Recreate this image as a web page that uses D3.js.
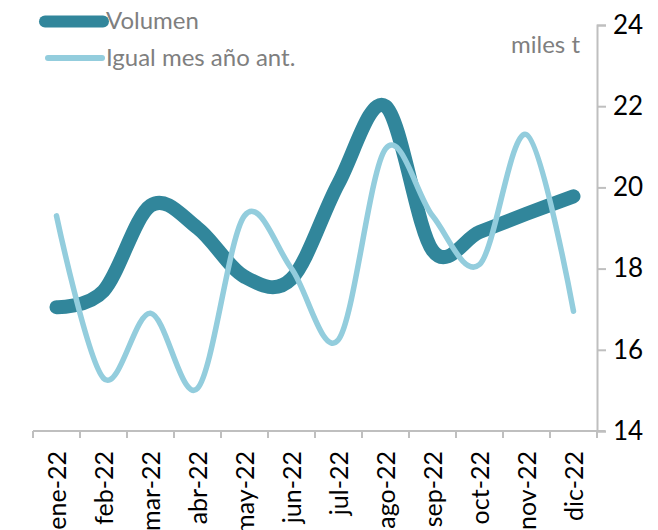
<!DOCTYPE html>
<html>
<head>
<meta charset="utf-8">
<script src="https://cdn.jsdelivr.net/npm/d3@7"></script>
<style>
  html, body { margin: 0; padding: 0; background: #ffffff; }
  svg { display: block; }
  text { font-family: Lato, "Open Sans", "Liberation Sans", sans-serif; }
</style>
</head>
<body>
<svg id="chart" width="658" height="530"></svg>
<script>
// Monthly volume (thousand tonnes), current year vs same month previous year
const months = ["ene-22", "feb-22", "mar-22", "abr-22", "may-22", "jun-22",
                "jul-22", "ago-22", "sep-22", "oct-22", "nov-22", "dic-22"];
const volumen = [17.05, 17.45, 19.55, 19.0, 17.8, 17.75, 20.1, 22.0, 18.45, 18.9, 19.35, 19.78];
const igualMesAnoAnt = [19.3, 15.3, 16.9, 15.05, 19.3, 18.0, 16.25, 20.95, 19.3, 18.1, 21.3, 16.95];
const yTicks = [14, 16, 18, 20, 22, 24];
const seriesNames = ["Volumen", "Igual mes año ant."];
const unitLabel = "miles t";

const colors = { volumen: "#31869b", previo: "#93cddd", axis: "#bfbfbf", grey: "#7f7f7f" };

const svg = d3.select("#chart");

const x = d3.scaleBand().domain(months).range([33, 597]).padding(0);
const y = d3.scaleLinear().domain([14, 24]).range([431, 25]);
const cx = d => x(d) + x.bandwidth() / 2;

// Horizontal category axis with ticks on the category boundaries
const xAxis = svg.append("g");
xAxis.append("line")
  .attr("x1", x.range()[0]).attr("x2", x.range()[1] + 8)
  .attr("y1", y(14)).attr("y2", y(14))
  .attr("stroke", colors.axis).attr("stroke-width", 2);
const bounds = months.map(m => x(m)).concat([x.range()[1]]);
xAxis.selectAll("line.tick").data(bounds).enter().append("line")
  .attr("class", "tick")
  .attr("x1", d => d).attr("x2", d => d)
  .attr("y1", y(14)).attr("y2", y(14) + 7)
  .attr("stroke", colors.axis).attr("stroke-width", 2);
xAxis.selectAll("text").data(months).enter().append("text")
  .attr("transform", d => `translate(${cx(d)},451) rotate(-90)`)
  .attr("dy", "0.36em")
  .attr("text-anchor", "end")
  .attr("font-size", 25)
  .attr("fill", "#000")
  .text(d => d);

// Value axis on the right
const yAxis = svg.append("g")
  .attr("transform", `translate(${x.range()[1]},0)`)
  .call(d3.axisRight(y).tickValues(yTicks).tickSize(9).tickPadding(7).tickFormat(d3.format("d")));
yAxis.select(".domain").attr("stroke", colors.axis).attr("stroke-width", 2);
yAxis.selectAll(".tick line").attr("stroke", colors.axis).attr("stroke-width", 2);
yAxis.selectAll(".tick text")
  .attr("font-size", 26)
  .attr("font-family", "Lato, 'Open Sans', sans-serif")
  .attr("fill", "#000");

svg.append("text")
  .attr("x", 580).attr("y", 53)
  .attr("text-anchor", "end")
  .attr("font-size", 24)
  .attr("fill", colors.grey)
  .text(unitLabel);

// Smoothed series lines
const line = d3.line()
  .x((d, i) => cx(months[i]))
  .y(d => y(d))
  .curve(d3.curveCatmullRom.alpha(0));

svg.append("path")
  .datum(volumen)
  .attr("d", line)
  .attr("fill", "none")
  .attr("stroke", colors.volumen)
  .attr("stroke-width", 14)
  .attr("stroke-linecap", "round")
  .attr("stroke-linejoin", "round");

svg.append("path")
  .datum(igualMesAnoAnt)
  .attr("d", line)
  .attr("fill", "none")
  .attr("stroke", colors.previo)
  .attr("stroke-width", 5.5)
  .attr("stroke-linecap", "round")
  .attr("stroke-linejoin", "round");

// Legend
const legend = svg.append("g");
const legendItems = [
  { name: seriesNames[0], color: colors.volumen, width: 12, x1: 45, x2: 103, y: 21.5, ty: 29 },
  { name: seriesNames[1], color: colors.previo, width: 6, x1: 48, x2: 102, y: 58, ty: 66 }
];
legendItems.forEach(it => {
  legend.append("line")
    .attr("x1", it.x1).attr("x2", it.x2)
    .attr("y1", it.y).attr("y2", it.y)
    .attr("stroke", it.color).attr("stroke-width", it.width)
    .attr("stroke-linecap", "round");
  legend.append("text")
    .attr("x", 106).attr("y", it.ty)
    .attr("font-size", 24)
    .attr("fill", colors.grey)
    .text(it.name);
});
</script>
</body>
</html>
